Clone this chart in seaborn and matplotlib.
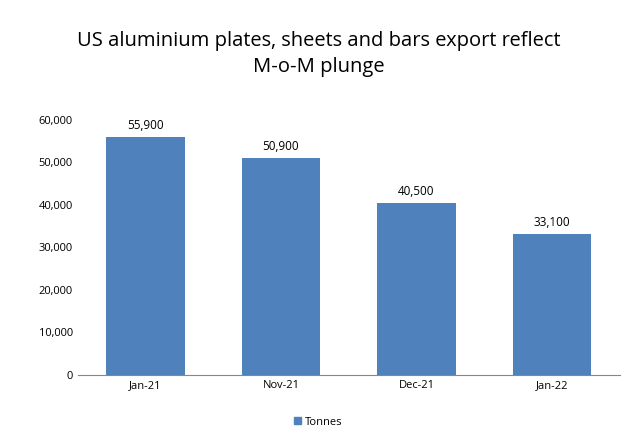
import matplotlib
matplotlib.use("Agg")
import matplotlib.pyplot as plt
import seaborn as sns
import pandas as pd
from matplotlib.ticker import FuncFormatter
from matplotlib.patches import Patch

categories = ["Jan-21", "Nov-21", "Dec-21", "Jan-22"]
values = [55900, 50900, 40500, 33100]
yticks = [0, 10000, 20000, 30000, 40000, 50000, 60000]

df = pd.DataFrame({"month": categories, "Tonnes": values})
color = "#4F81BD"
plt.rcParams["font.family"] = "Open Sans"

fig = plt.figure(figsize=(6.37, 4.42), dpi=100)
ax = fig.add_axes([0.122, 0.152, 0.851, 0.577])
sns.barplot(data=df, x="month", y="Tonnes", color=color, width=0.58, saturation=1, ax=ax)
ax.set_ylim(0, 60000)
ax.set_yticks(yticks)
ax.yaxis.set_major_formatter(FuncFormatter(lambda v, p: f"{int(v):,}"))
ax.set_xlabel(""); ax.set_ylabel("")
for s in ["top", "right", "left"]:
    ax.spines[s].set_visible(False)
ax.spines["bottom"].set_color("#868686")
ax.tick_params(axis="y", length=0, labelsize=8)
ax.tick_params(axis="x", length=0, labelsize=8)
for i, v in enumerate(values):
    ax.text(i, v + 1200, f"{v:,}", ha="center", va="bottom", fontsize=8.5)
fig.text(0.5, 0.878, "US aluminium plates, sheets and bars export reflect\nM-o-M plunge",
         ha="center", va="center", fontsize=14.5, linespacing=1.35)
fig.legend(handles=[Patch(color=color, label="Tonnes")], loc="center", bbox_to_anchor=(0.5, 0.045),
           frameon=False, fontsize=8, handlelength=0.6, handleheight=0.6, handletextpad=0.4)
fig.savefig("out.png", dpi=100)
